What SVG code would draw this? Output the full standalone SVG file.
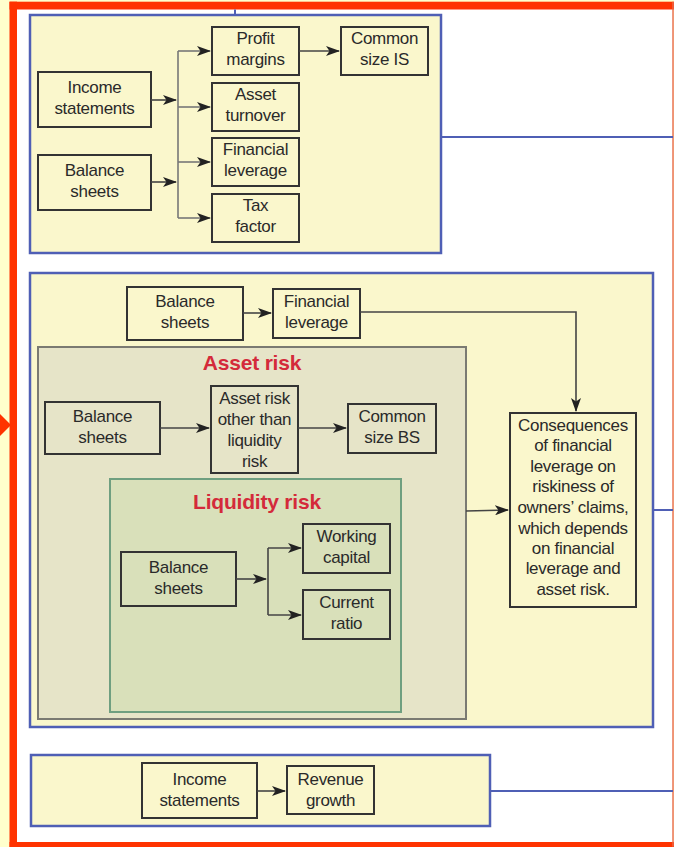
<svg xmlns="http://www.w3.org/2000/svg" width="674" height="847" viewBox="0 0 674 847">
<defs>
<marker id="ah" markerWidth="14" markerHeight="10" refX="13" refY="5" orient="auto" markerUnits="userSpaceOnUse">
<path d="M0,0 L14,5 L0,10 L3.5,5 z" fill="#222"/>
</marker>
</defs>
<style>
.grp{fill:#faf7cc;stroke:#4f5fb5;stroke-width:2.5}
.node{fill:none;stroke:#333;stroke-width:2}
.t{font-family:"Liberation Sans Narrow","Liberation Sans",Arial,sans-serif;font-size:17px;fill:#2a2a2a;text-anchor:middle;letter-spacing:-0.3px}
.title{font-family:"Liberation Sans","Arial",sans-serif;font-size:21px;font-weight:bold;fill:#d42a3a;text-anchor:middle;letter-spacing:-0.2px}
.c{fill:none;stroke:#444;stroke-width:1.6}
.bus{fill:none;stroke:#777;stroke-width:1.6}
.blue{fill:none;stroke:#4f5fb5;stroke-width:2}
</style>
<rect x="0" y="0" width="674" height="847" fill="#ffffcc"/>
<rect x="13" y="5.5" width="660" height="845" fill="#ffffff"/>
<g id="frame">
<rect x="9.5" y="1.7" width="7.5" height="845.3" fill="#ff3300"/>
<rect x="9.5" y="1.7" width="664.5" height="7.8" fill="#ff3300"/>
<rect x="9.5" y="842" width="664.5" height="5" fill="#ff3300"/>
<rect x="672.3" y="1.7" width="1.4" height="845" fill="#e86a4a"/>
<polygon points="0,414 11,425 0,436" fill="#ff3300"/>
</g>
<g id="links">
<line class="blue" x1="235" y1="9.5" x2="235" y2="15"/>
<line class="blue" x1="441" y1="137" x2="673" y2="137"/>
<line class="blue" x1="653" y1="510" x2="673" y2="510"/>
<line class="blue" x1="490" y1="791" x2="673" y2="791"/>
</g>
<g id="group1">
<rect class="grp" x="30" y="15" width="411" height="238"/>
</g>
<g id="inc1"><rect class="node" x="38" y="72" width="113" height="55"/><text class="t" x="94.5" y="93">Income</text><text class="t" x="94.5" y="114">statements</text></g>
<g id="bal1"><rect class="node" x="38" y="155" width="113" height="55"/><text class="t" x="94.5" y="176">Balance</text><text class="t" x="94.5" y="197">sheets</text></g>
<g id="pm"><rect class="node" x="212" y="27" width="87" height="48"/><text class="t" x="255.5" y="44">Profit</text><text class="t" x="255.5" y="65">margins</text></g>
<g id="csis"><rect class="node" x="341" y="27" width="87" height="48"/><text class="t" x="384.5" y="44">Common</text><text class="t" x="384.5" y="65">size IS</text></g>
<g id="at"><rect class="node" x="212" y="83" width="87" height="48"/><text class="t" x="255.5" y="100">Asset</text><text class="t" x="255.5" y="121">turnover</text></g>
<g id="fl1"><rect class="node" x="212" y="138" width="87" height="48"/><text class="t" x="255.5" y="155">Financial</text><text class="t" x="255.5" y="176">leverage</text></g>
<g id="tax"><rect class="node" x="212" y="194" width="87" height="48"/><text class="t" x="255.5" y="211">Tax</text><text class="t" x="255.5" y="232">factor</text></g>
<g id="group2">
<rect class="grp" x="30" y="273" width="623" height="454"/>
</g>
<g id="assetrisk">
<rect x="38" y="347" width="428" height="372" fill="#e6e4c8" stroke="#7a7a72" stroke-width="2"/>
<text class="title" x="252" y="370">Asset risk</text>
</g>
<g id="liquidity">
<rect x="110" y="479" width="291" height="233" fill="#d9e0ba" stroke="#6f9f80" stroke-width="2"/>
<text class="title" x="257" y="509">Liquidity risk</text>
</g>
<g id="bs2"><rect class="node" x="127" y="287" width="116" height="53"/><text class="t" x="185" y="307">Balance</text><text class="t" x="185" y="328">sheets</text></g>
<g id="fl2"><rect class="node" x="273" y="289" width="87" height="49"/><text class="t" x="316.5" y="307">Financial</text><text class="t" x="316.5" y="328">leverage</text></g>
<g id="bs3"><rect class="node" x="45" y="402" width="115" height="52"/><text class="t" x="102.5" y="422">Balance</text><text class="t" x="102.5" y="443">sheets</text></g>
<g id="aro"><rect class="node" x="211" y="386" width="87" height="87"/><text class="t" x="254.5" y="404">Asset risk</text><text class="t" x="254.5" y="425">other than</text><text class="t" x="254.5" y="446">liquidity</text><text class="t" x="254.5" y="467">risk</text></g>
<g id="csbs"><rect class="node" x="348" y="404" width="88" height="49"/><text class="t" x="392" y="422">Common</text><text class="t" x="392" y="443">size BS</text></g>
<g id="bs4"><rect class="node" x="121" y="552" width="115" height="54"/><text class="t" x="178.5" y="573">Balance</text><text class="t" x="178.5" y="594">sheets</text></g>
<g id="wc"><rect class="node" x="303" y="524" width="87" height="49"/><text class="t" x="346.5" y="542">Working</text><text class="t" x="346.5" y="563">capital</text></g>
<g id="cr"><rect class="node" x="303" y="590" width="87" height="49"/><text class="t" x="346.5" y="608">Current</text><text class="t" x="346.5" y="629">ratio</text></g>
<g id="cons"><rect class="node" x="510" y="413" width="126" height="194"/>
<text class="t" x="573" y="431">Consequences</text>
<text class="t" x="573" y="451">of financial</text>
<text class="t" x="573" y="472">leverage on</text>
<text class="t" x="573" y="492">riskiness  of</text>
<text class="t" x="573" y="513">owners’ claims,</text>
<text class="t" x="573" y="534">which depends</text>
<text class="t" x="573" y="554">on financial</text>
<text class="t" x="573" y="574">leverage and</text>
<text class="t" x="573" y="595">asset risk.</text>
</g>
<g id="group3">
<rect class="grp" x="31" y="755" width="459" height="71"/>
</g>
<g id="inc3"><rect class="node" x="142" y="763" width="115" height="55"/><text class="t" x="199.5" y="785">Income</text><text class="t" x="199.5" y="806">statements</text></g>
<g id="rg"><rect class="node" x="287" y="766" width="87" height="48"/><text class="t" x="330.5" y="785">Revenue</text><text class="t" x="330.5" y="806">growth</text></g>
<g id="connectors">
<line class="c" x1="151" y1="100" x2="176" y2="100" marker-end="url(#ah)"/>
<line class="c" x1="151" y1="182" x2="176" y2="182" marker-end="url(#ah)"/>
<line class="bus" x1="178" y1="51" x2="178" y2="218"/>
<line class="bus" x1="178" y1="51" x2="210" y2="51" marker-end="url(#ah)"/>
<line class="bus" x1="178" y1="107" x2="210" y2="107" marker-end="url(#ah)"/>
<line class="bus" x1="178" y1="162" x2="210" y2="162" marker-end="url(#ah)"/>
<line class="bus" x1="178" y1="218" x2="210" y2="218" marker-end="url(#ah)"/>
<line class="c" x1="299" y1="51" x2="339" y2="51" marker-end="url(#ah)"/>
<line class="c" x1="243" y1="313" x2="271" y2="313" marker-end="url(#ah)"/>
<polyline class="c" points="360,312 576,312 576,411" marker-end="url(#ah)"/>
<line class="c" x1="160" y1="428" x2="209" y2="428" marker-end="url(#ah)"/>
<line class="c" x1="298" y1="428" x2="346" y2="428" marker-end="url(#ah)"/>
<line class="c" x1="236" y1="579" x2="266" y2="579" marker-end="url(#ah)"/>
<line class="c" x1="268" y1="548" x2="268" y2="615"/>
<line class="c" x1="268" y1="548" x2="301" y2="548" marker-end="url(#ah)"/>
<line class="c" x1="268" y1="615" x2="301" y2="615" marker-end="url(#ah)"/>
<line class="c" x1="466" y1="511" x2="508" y2="510" marker-end="url(#ah)"/>
<line class="c" x1="257" y1="791" x2="285" y2="791" marker-end="url(#ah)"/>
</g>
</svg>
